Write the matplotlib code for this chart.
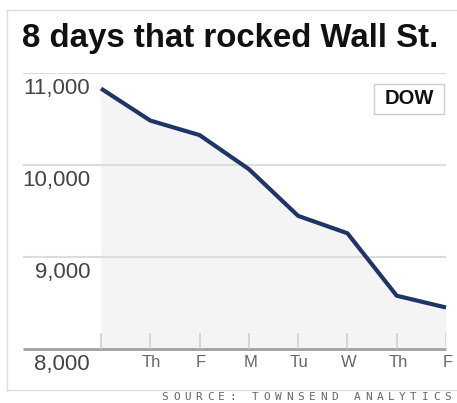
import matplotlib.pyplot as plt
from matplotlib.lines import Line2D
from matplotlib.patches import Rectangle

# Dow close, Oct 1 - Oct 10 2008
days = ["W", "Th", "F", "M", "Tu", "W", "Th", "F"]
dow = [10831, 10483, 10325, 9955, 9447, 9258, 8579, 8451]
y_ticks = [8000, 9000, 10000, 11000]
y_labels = ["8,000", "9,000", "10,000", "11,000"]
title = "8 days that rocked Wall St."
source = "SOURCE: TOWNSEND ANALYTICS"

W, H = 457, 403
fig = plt.figure(figsize=(W / 100, H / 100), dpi=100)
plt.rcParams['font.family'] = ['Liberation Sans', 'DejaVu Sans']

# axes placed in pixel terms
x0, x1, ytop, ybot = 23, 446, 73, 349
ax = fig.add_axes([x0 / W, 1 - ybot / H, (x1 - x0) / W, (ybot - ytop) / H])
step = (x1 - 101) / (len(days) - 1)
ax.set_xlim(-(101 - x0) / step, len(days) - 1)
ax.set_ylim(8000, 11000)
ax.axis("off")

xs = list(range(len(days)))
ax.fill_between(xs, dow, 8000, color="#f4f4f4", lw=0)
ax.hlines(y_ticks[1:], *ax.get_xlim(), color="#dcdcdc", lw=1.5)
ax.hlines(8000, *ax.get_xlim(), color="#a0a0a0", lw=2, clip_on=False)
ax.vlines(xs, 8000, 8175, color="#cfcfcf", lw=1.2)
ax.plot(xs, dow, color="#1f3568", lw=3, solid_capstyle="butt", clip_on=False)

for v, lab in zip(y_ticks, y_labels):
    ax.annotate(lab, xy=((90 - x0) / (x1 - x0), v), xycoords=("axes fraction", "data"),
                xytext=(0, -11), textcoords="offset points",
                ha="right", va="center", fontsize=16, color="#444444")

for i, d in enumerate(days):
    if i == 0:
        continue
    ax.annotate(d, xy=(i, 8000), xytext=(1, -9.5), textcoords="offset points",
                ha="center", va="center", fontsize=12, color="#666666")

# title
fig.text(22 / W, 1 - 39 / H, title, fontsize=23.8, fontweight="bold",
         ha="left", va="center", color="#111111")

# DOW box
fig.patches.append(Rectangle((374 / W, 1 - 114 / H), 70 / W, 30 / H,
                             transform=fig.transFigure, fill=False,
                             ec="#cccccc", lw=1))
fig.text(409 / W, 1 - 99 / H, "DOW", fontsize=14.5, fontweight="bold",
         ha="center", va="center", color="#111111")

# outer frame
frame = dict(color="#dddddd", lw=1, transform=fig.transFigure)
fig.lines.append(Line2D([7 / W, 7 / W], [1 - 10 / H, 1 - 390 / H], **frame))
fig.lines.append(Line2D([7 / W, 1], [1 - 10 / H, 1 - 10 / H], **frame))
fig.lines.append(Line2D([7 / W, 1], [1 - 390 / H, 1 - 390 / H], **frame))

# source line, letter spaced
for i, ch in enumerate(source):
    fig.text((165 + i * 11.3) / W, 1 - 397 / H, ch, fontsize=8,
             family="DejaVu Sans Mono", ha="center", va="center", color="#666666")

fig.savefig("out.png", dpi=100)
